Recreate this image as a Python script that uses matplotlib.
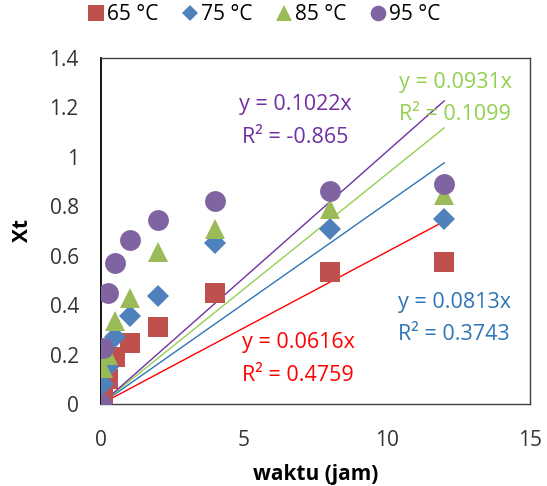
import matplotlib
matplotlib.use("Agg")
import matplotlib.pyplot as plt
import numpy as np
from matplotlib.lines import Line2D

plt.rcParams['font.family'] = ['Open Sans', 'DejaVu Sans']

time = [0, 0.083, 0.25, 0.5, 1, 2, 4, 8, 12]
labels = ['65 °C', '75 °C', '85 °C', '95 °C']
xt_65 = [0, 0.04, 0.10, 0.19, 0.245, 0.31, 0.45, 0.535, 0.575]
xt_75 = [0, 0.08, 0.15, 0.27, 0.355, 0.435, 0.65, 0.71, 0.75]
xt_85 = [0, 0.145, 0.20, 0.335, 0.43, 0.615, 0.71, 0.79, 0.845]
xt_95 = [0, 0.225, 0.45, 0.57, 0.665, 0.745, 0.82, 0.86, 0.89]
slopes = [0.0616, 0.0813, 0.0931, 0.1022]
r2 = ['0.4759', '0.3743', '0.1099', '-0.865']
trend_x = [0, 12]

marker_colors = ['#C0504D', '#4F81BD', '#9BBB59', '#8064A2']
line_colors = ['#FF0000', '#2E75B6', '#92D050', '#7030A0']
markers = ['s', 'D', '^', 'o']
msizes = [15, 11, 15, 15]

fig = plt.figure(figsize=(5.47, 4.86), dpi=100)
ax = fig.add_axes([101/547, 1-404/486, 429/547, 346/486])

series = [xt_65, xt_75, xt_85, xt_95]
for s, c, m, ms, lab in zip(series, marker_colors, markers, msizes, labels):
    ax.plot(time, s, linestyle='none', marker=m, markersize=ms, color=c,
            markeredgewidth=0, label=lab, zorder=3)

for k, lc in zip(slopes, line_colors):
    tx = np.array(trend_x, dtype=float)
    ax.plot(tx, k * tx, color=lc, linewidth=1.0, zorder=2)

# trendline labels
ann = [
    (6.9, 0.247, 0.117, 0),
    (12.35, 0.409, 0.28, 1),
    (12.38, 1.30, 1.17, 2),
    (6.78, 1.21, 1.077, 3),
]
for x, y1, y2, i in ann:
    ax.text(x, y1, f'y = {slopes[i]}x', color=line_colors[i], fontsize=15.5,
            ha='center', va='center', zorder=4)
    ax.text(x, y2, f'R² = {r2[i]}', color=line_colors[i], fontsize=15.5,
            ha='center', va='center', zorder=4)

ax.set_xlim(0, 15)
ax.set_ylim(0, 1.4)
ax.set_xticks([0, 5, 10, 15])
ax.set_yticks([0, 0.2, 0.4, 0.6, 0.8, 1.0, 1.2, 1.4])
ax.set_yticklabels(['0', '0.2', '0.4', '0.6', '0.8', '1', '1.2', '1.4'])
ax.tick_params(axis='y', length=0, labelsize=15, colors='#333333', pad=16)
ax.tick_params(axis='x', length=0, labelsize=15, colors='#333333', pad=19)
for sp in ['top', 'right', 'bottom']:
    ax.spines[sp].set_color('#404040')
    ax.spines[sp].set_linewidth(1.0)
ax.spines['left'].set_color('black')
ax.spines['left'].set_linewidth(1.3)
for sp in ax.spines.values():
    sp.set_zorder(1)

ax.set_xlabel('waktu (jam)', fontsize=15, fontweight='bold', va='center')
ax.set_ylabel('Xt', fontsize=15, fontweight='bold', va='center')
ax.xaxis.set_label_coords(0.5, (404 - 474) / 346)
ax.yaxis.set_label_coords((22 - 101) / 429, 0.5)

handles = [Line2D([], [], linestyle='none', marker=m, color=c,
                  markersize=ms * 0.75, markeredgewidth=0)
           for m, c, ms in zip(markers, marker_colors, msizes)]
fig.legend(handles, labels, loc='center', bbox_to_anchor=(263/547, 1-15/486),
           ncol=4, frameon=False, fontsize=15, handletextpad=0.05,
           columnspacing=1.0, handlelength=1.0)

fig.savefig('out.png', dpi=100)
